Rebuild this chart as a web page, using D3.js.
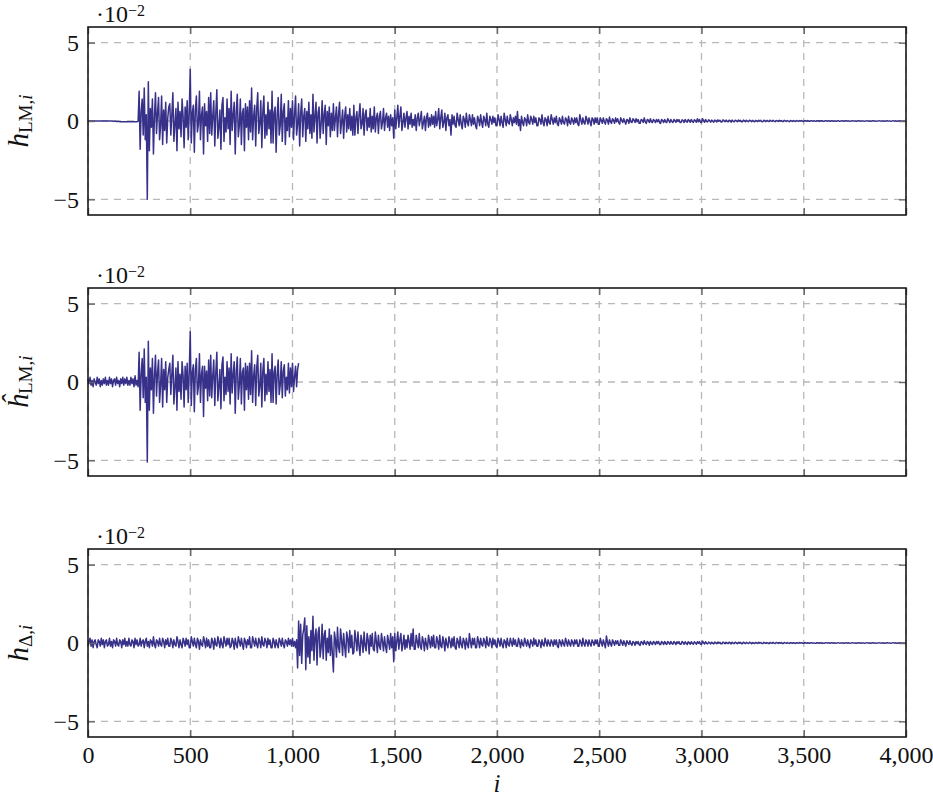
<!DOCTYPE html>
<html>
<head>
<meta charset="utf-8">
<script src="https://cdn.jsdelivr.net/npm/d3@7"></script>
<style>
  body { margin: 0; background: #fff; }
  text { font-family: "Liberation Serif", "DejaVu Serif", serif; fill: #111; }
  .tick line { stroke: #666; stroke-width: 1.4; }
  .tick text { font-size: 24px; }
</style>
</head>
<body>
<div id="chart"></div>
<script>
// Samples every STEP indices (values in units of 1e-2)
var STEP = 5

var xTicks = [0, 500, 1000, 1500, 2000, 2500, 3000, 3500, 4000]
var yTicks = [-5, 0, 5]

var hLM = [
  0,0,0,0,0,0,0,0,0,0,0,0,0,0,0,0,0,0,0,0,
  0,0,0,0,0,-0.01,-0.02,-0.02,-0.03,-0.03,-0.03,-0.04,-0.04,-0.04,-0.04,-0.05,-0.05,-0.05,-0.05,-0.05,
  -0.05,-0.05,-0.05,-0.05,-0.05,-0.05,-0.05,-0.04,-0.04,-0.03,1.9,-1.8,0.6,1.4,-0.9,2.1,-1.2,0.4,-5.0,2.5,
  -1.9,0.8,-0.4,1.4,-2.1,0.3,1.8,-0.8,0.5,1.5,-1.2,-0.3,1.6,-1.5,0.7,-0.6,1.2,-1.4,0.2,0.9,
  1.1,-0.9,0.4,1.8,-1.3,-0.2,0.8,-1.9,1.2,-0.5,0.6,-1.0,1.4,0.3,-1.7,0.9,-0.4,1.3,-1.2,0.5,
  3.3,-1.4,0.5,1.0,-2.0,0.7,1.6,-0.7,-0.2,1.9,-1.2,0.4,0.9,-2.1,1.1,-0.3,0.6,-1.3,1.5,-0.8,
  1.8,-0.9,0.3,1.3,-1.6,0.5,2.0,-1.1,-0.4,0.7,-1.8,1.0,1.5,-1.3,0.2,-0.7,1.4,-0.5,0.8,-1.5,
  1.9,-0.6,0.4,1.2,-2.1,0.6,1.7,-1.0,-0.3,1.4,-1.5,0.5,0.8,-1.9,1.1,-0.4,0.9,-1.2,1.3,-0.7,
  2.1,-1.2,0.3,1.0,-1.6,0.8,1.8,-0.8,-0.2,1.3,-1.7,0.6,1.6,-1.1,0.4,-0.9,1.2,-0.5,0.7,-1.4,
  1.9,-1.4,0.5,0.9,-2.0,0.4,1.5,-0.9,-0.3,1.7,-1.3,0.6,1.1,-1.5,0.2,-0.6,1.3,-1.0,0.8,-0.4,
  1.3,-1.2,0.4,1.6,-0.9,-0.2,1.1,-1.6,0.5,1.4,-1.0,0.3,0.8,-1.3,0.6,-0.5,1.2,-0.8,0.4,-1.1,
  1.7,-0.7,0.3,1.2,-1.4,0.5,0.9,-1.1,-0.2,1.3,-0.8,0.4,1.0,-1.5,0.6,-0.3,0.9,-1.0,0.5,-0.6,
  1.1,-0.6,0.2,0.9,-1.0,0.4,1.2,-0.8,-0.1,0.7,-1.1,0.3,0.9,-0.7,0.4,-0.5,0.8,-0.6,0.3,-0.9,
  1.0,-0.9,0.2,0.6,-0.8,0.3,1.1,-0.5,-0.2,0.8,-0.9,0.4,0.7,-0.6,0.2,-0.4,0.8,-0.7,0.3,-0.5,
  0.9,-0.7,0.2,0.5,-0.8,0.3,0.6,-0.5,-0.1,0.8,-0.6,0.2,0.5,-0.4,0.3,-0.6,0.4,-0.3,0.2,-1.1,
  0.7,-0.5,0.2,1.0,-0.4,0.3,0.9,-0.6,-0.1,0.5,-0.4,0.2,0.6,-0.5,0.3,-0.2,0.5,-0.4,0.1,-0.3,
  0.4,-0.6,0.2,0.5,-0.3,0.1,0.6,-0.5,-0.1,0.3,-0.6,0.2,0.5,-0.4,0.2,-0.3,0.4,-0.2,0.3,-0.4,
  0.6,-0.3,0.1,0.8,-0.5,0.2,0.7,-0.4,-0.1,0.5,-0.6,0.2,0.4,-0.3,0.1,-0.9,0.4,-0.2,0.3,-0.3,
  -0.4,0.5,0.1,-0.3,0.4,-0.2,-0.5,0.3,0.1,-0.4,0.5,-0.1,-0.3,0.4,0.1,-0.3,0.4,-0.2,0.2,-0.3,
  -0.5,0.3,0.1,-0.3,0.4,-0.1,-0.4,0.3,0.1,-0.3,0.5,-0.2,-0.4,0.3,0.1,-0.2,0.3,-0.1,0.2,-0.3,
  -0.3,0.4,0.1,-0.3,0.3,-0.1,-0.4,0.5,0.1,-0.3,0.3,-0.1,-0.2,0.4,0.1,-0.3,0.2,-0.1,0.3,-0.2,
  0.6,-0.3,0.1,-0.6,0.3,-0.1,-0.3,0.2,0.1,-0.3,0.4,-0.1,-0.2,0.3,0.1,-0.2,0.3,-0.1,0.2,-0.3,
  -0.3,0.2,0.1,-0.2,0.4,-0.1,-0.3,0.2,0.1,-0.3,0.3,-0.1,-0.2,0.4,0.1,-0.2,0.2,-0.1,0.3,-0.2,
  -0.3,0.2,0.05,-0.2,0.3,-0.1,-0.2,0.2,0.1,-0.3,0.3,-0.1,-0.2,0.2,0.05,-0.2,0.2,-0.1,0.2,-0.2,
  -0.3,0.4,0.05,-0.2,0.2,-0.1,-0.2,0.3,0.1,-0.2,0.2,-0.05,-0.3,0.2,0.1,-0.2,0.2,-0.1,0.2,-0.2,
  -0.2,0.2,0.05,-0.15,0.2,-0.05,-0.2,0.15,0.05,-0.2,0.25,-0.05,-0.15,0.15,0.05,-0.15,0.2,-0.05,0.15,-0.1,
  -0.2,0.2,0.05,-0.1,0.15,-0.05,-0.2,0.1,0.05,-0.15,0.2,-0.05,-0.1,0.15,0.05,-0.1,0.15,-0.05,0.1,-0.15,
  -0.15,0.1,0.05,-0.1,0.2,-0.05,-0.15,0.1,0.05,-0.1,0.15,-0.05,-0.1,0.1,0.03,-0.1,0.1,-0.05,0.1,-0.1,
  -0.15,0.1,0.03,-0.1,0.1,-0.05,-0.1,0.15,0.03,-0.1,0.1,-0.03,-0.1,0.1,0.03,-0.08,0.1,-0.03,0.08,-0.1,
  -0.1,0.08,0.03,-0.1,0.1,-0.03,-0.08,0.1,0.03,-0.08,0.1,-0.03,-0.1,0.08,0.03,-0.08,0.15,-0.05,0.1,-0.08,
  -0.1,0.15,0.03,-0.08,0.1,-0.03,-0.06,0.08,0.02,-0.07,0.06,-0.02,-0.08,0.06,0.02,-0.06,0.07,-0.02,0.05,-0.06,
  -0.06,0.07,0.02,-0.05,0.06,-0.02,-0.06,0.05,0.02,-0.07,0.06,-0.02,-0.05,0.05,0.02,-0.05,0.06,-0.02,0.05,-0.05,
  -0.05,0.06,0.02,-0.05,0.05,-0.02,-0.04,0.05,0.02,-0.05,0.04,-0.02,-0.05,0.04,0.01,-0.04,0.05,-0.02,0.04,-0.04,
  -0.04,0.05,0.01,-0.04,0.04,-0.01,-0.04,0.05,0.01,-0.03,0.04,-0.01,-0.04,0.03,0.01,-0.03,0.04,-0.01,0.03,-0.03,
  -0.03,0.04,0.01,-0.03,0.03,-0.01,-0.04,0.03,0.01,-0.03,0.03,-0.01,-0.03,0.03,0.01,-0.03,0.03,-0.01,0.03,-0.02,
  -0.03,0.02,0.01,-0.02,0.03,-0.01,-0.02,0.02,0.01,-0.02,0.02,-0.01,-0.02,0.02,0.01,-0.03,0.02,-0.01,0.02,-0.02,
  -0.02,0.02,0.01,-0.02,0.02,-0.01,-0.02,0.02,0.01,-0.02,0.01,-0.01,-0.02,0.02,0.01,-0.02,0.01,-0.01,0.02,-0.01,
  -0.01,0.02,0.01,-0.01,0.01,-0.01,-0.02,0.01,0.01,-0.01,0.01,-0.01,-0.01,0.01,0.01,-0.01,0.01,-0.01,0.01,-0.01,
  -0.01,0.01,0.01,-0.01,0.01,-0.01,-0.01,0.01,0.01,-0.01,0.01,-0.01,-0.01,0.01,0.01,-0.01,0.01,-0.01,0.01,-0.01,
  -0.01,0.01,0.01,-0.01,0.01,-0.01,-0.01,0.01,0.01,-0.01,0.01,-0.01,-0.01,0.01,0.01,-0.01,0.01,-0.01,0.01,-0.01,
  0
]

var hLMhat = [
  0.2,-0.1,0.3,-0.2,0.1,-0.3,0.2,0.0,-0.2,0.3,-0.1,0.2,-0.3,0.1,-0.2,0.2,-0.1,0.3,-0.2,0.1,
  -0.2,0.3,-0.1,0.2,-0.3,0.1,0.2,-0.2,0.3,-0.1,0.1,-0.3,0.2,-0.1,0.3,-0.2,0.2,-0.1,0.3,-0.2,
  0.1,-0.2,0.3,-0.1,0.2,-0.3,0.4,-0.2,0.1,-0.3,1.9,-1.8,0.5,1.5,-1.0,2.1,-1.3,0.3,-5.1,2.6,
  -1.8,0.9,-0.5,1.5,-2.0,0.4,1.7,-0.9,0.6,1.4,-1.3,-0.2,1.5,-1.6,0.8,-0.5,1.3,-1.3,0.3,0.8,
  1.2,-0.8,0.5,1.7,-1.4,-0.3,0.9,-1.8,1.3,-0.6,0.5,-1.1,1.3,0.4,-1.6,1.0,-0.5,1.2,-1.3,0.6,
  3.2,-1.5,0.6,1.1,-1.9,0.8,1.5,-0.8,-0.3,1.8,-1.3,0.5,1.0,-2.2,1.0,-0.4,0.7,-1.2,1.4,-0.9,
  1.7,-1.0,0.4,1.4,-1.5,0.6,1.9,-1.2,-0.3,0.8,-1.7,1.1,1.6,-1.2,0.3,-0.8,1.3,-0.6,0.9,-1.4,
  1.8,-0.7,0.5,1.3,-2.0,0.7,1.6,-1.1,-0.2,1.5,-1.4,0.6,0.9,-1.8,1.2,-0.5,1.0,-1.1,1.2,-0.8,
  2.0,-1.3,0.4,1.1,-1.5,0.9,1.7,-0.9,-0.3,1.2,-1.6,0.7,1.5,-1.2,0.5,-0.8,1.3,-0.6,0.8,-1.3,
  1.8,-1.3,0.6,1.0,-1.4,0.5,1.4,-0.8,-0.2,1.3,-1.0,0.7,1.1,-0.9,0.3,-0.5,1.2,-0.7,0.9,-0.3,
  1.2,-0.6,0.3,1.0,-0.3,0.8,1.2
]

var hDelta = [
  -0.2,0.1,0.3,-0.2,0.2,-0.3,0.1,0.2,-0.1,-0.3,0.2,0.1,-0.2,0.3,-0.1,0.2,-0.3,0.1,0.2,-0.2,
  -0.1,0.3,-0.2,0.1,-0.3,0.2,0.1,-0.2,0.3,-0.1,-0.2,0.2,0.1,-0.3,0.2,-0.1,0.3,-0.2,0.1,-0.2,
  0.3,-0.1,-0.2,0.2,0.1,-0.3,0.3,-0.1,0.2,-0.2,-0.1,0.3,-0.2,0.1,0.2,-0.3,0.1,0.3,-0.2,0.1,
  -0.3,0.2,0.1,-0.2,0.4,-0.1,-0.3,0.2,0.1,-0.2,0.3,-0.1,-0.2,0.3,0.1,-0.3,0.2,-0.1,0.3,-0.2,
  -0.2,0.3,0.1,-0.3,0.2,-0.1,-0.2,0.4,0.1,-0.3,0.2,-0.1,-0.3,0.3,0.1,-0.2,0.3,-0.1,0.2,-0.3,
  -0.3,0.4,0.1,-0.2,0.3,-0.1,-0.3,0.3,0.1,-0.4,0.2,-0.1,-0.2,0.4,0.1,-0.3,0.3,-0.2,0.2,-0.3,
  -0.3,0.3,0.1,-0.4,0.3,-0.1,-0.2,0.4,0.1,-0.3,0.3,-0.1,-0.3,0.4,0.1,-0.2,0.3,-0.1,0.3,-0.3,
  -0.2,0.3,0.1,-0.4,0.3,-0.1,-0.3,0.4,0.1,-0.2,0.3,-0.1,-0.4,0.3,0.1,-0.3,0.2,-0.1,0.4,-0.3,
  -0.3,0.4,0.1,-0.2,0.3,-0.1,-0.3,0.3,0.1,-0.3,0.4,-0.1,-0.2,0.3,0.1,-0.3,0.3,-0.1,0.2,-0.3,
  -0.3,0.3,0.1,-0.3,0.2,-0.1,-0.3,0.3,0.1,-0.2,0.3,-0.1,-0.3,0.2,0.1,-0.2,0.3,-0.1,0.2,-0.2,
  0.3,-0.2,0.1,-0.3,0.2,-1.6,1.4,-0.8,1.2,-1.3,0.5,0.9,1.6,-1.7,1.1,-0.9,0.4,-1.3,0.8,-0.5,
  1.7,-1.1,0.4,0.9,-1.4,0.6,1.0,-0.9,-0.3,1.2,-1.0,0.5,0.8,-1.1,0.3,-0.6,0.9,-0.8,0.5,-0.7,
  -1.85,0.7,0.2,-0.9,1.0,-0.3,-0.6,0.9,0.2,-0.8,0.6,-0.2,-0.9,0.7,0.3,-0.6,0.8,-0.3,0.5,-0.7,
  -0.6,0.8,0.2,-0.5,0.7,-0.2,-0.8,0.5,0.1,-0.6,0.7,-0.2,-0.5,0.6,0.2,-0.7,0.5,-0.2,0.6,-0.4,
  -0.5,0.7,0.1,-0.6,0.5,-0.2,-0.4,0.6,0.1,-0.5,0.4,-0.2,-0.6,0.5,0.1,-0.4,0.6,-0.3,0.4,-1.2,
  0.6,-0.5,0.1,0.7,-0.4,0.2,0.6,-0.5,-0.1,0.5,-0.4,0.2,-0.3,0.5,0.1,-0.4,0.6,-0.2,0.9,-0.4,
  -0.4,0.5,0.1,-0.3,0.6,-0.2,-0.4,0.4,0.1,-0.5,0.3,-0.1,-0.4,0.5,0.1,-0.3,0.4,-0.2,0.5,-0.3,
  -0.3,0.4,0.1,-0.4,0.5,-0.2,-0.3,0.4,0.1,-0.5,0.3,-0.1,-0.3,0.4,0.1,-0.3,0.3,-0.2,0.4,-0.3,
  -0.4,0.3,0.1,-0.3,0.4,-0.1,-0.3,0.3,0.1,-0.4,0.3,-0.1,-0.3,0.6,0.1,-0.3,0.3,-0.1,0.3,-0.3,
  -0.3,0.4,0.1,-0.3,0.3,-0.1,-0.2,0.3,0.1,-0.3,0.4,-0.1,-0.2,0.3,0.1,-0.3,0.3,-0.1,0.2,-0.2,
  -0.3,0.3,0.1,-0.2,0.3,-0.1,-0.3,0.2,0.1,-0.3,0.3,-0.1,-0.2,0.3,0.05,-0.2,0.3,-0.1,0.2,-0.2,
  -0.2,0.3,0.05,-0.3,0.2,-0.1,-0.2,0.3,0.05,-0.2,0.2,-0.1,-0.3,0.2,0.05,-0.2,0.3,-0.1,0.2,-0.2,
  -0.2,0.2,0.05,-0.3,0.2,-0.1,-0.2,0.3,0.05,-0.2,0.2,-0.05,-0.2,0.2,0.05,-0.2,0.2,-0.1,0.2,-0.2,
  -0.3,0.2,0.05,-0.2,0.2,-0.05,-0.2,0.3,0.05,-0.2,0.2,-0.05,-0.2,0.2,0.05,-0.2,0.2,-0.05,0.2,-0.2,
  -0.2,0.2,0.05,-0.2,0.3,-0.05,-0.2,0.2,0.05,-0.2,0.2,-0.05,-0.2,0.2,0.05,-0.15,0.2,-0.05,0.2,-0.2,
  -0.2,0.3,0.05,-0.2,0.2,-0.05,-0.3,0.45,0.05,-0.2,0.2,-0.05,-0.2,0.2,0.05,-0.15,0.15,-0.05,0.15,-0.15,
  -0.15,0.2,0.05,-0.15,0.15,-0.05,-0.2,0.15,0.03,-0.1,0.15,-0.05,-0.15,0.1,0.03,-0.15,0.1,-0.05,0.1,-0.1,
  -0.15,0.1,0.03,-0.1,0.15,-0.03,-0.1,0.1,0.03,-0.15,0.1,-0.03,-0.1,0.1,0.03,-0.1,0.1,-0.03,0.1,-0.1,
  -0.1,0.1,0.03,-0.1,0.1,-0.03,-0.1,0.1,0.03,-0.08,0.1,-0.03,-0.08,0.1,0.03,-0.1,0.08,-0.03,0.08,-0.08,
  -0.08,0.1,0.03,-0.08,0.08,-0.03,-0.1,0.08,0.03,-0.08,0.08,-0.03,-0.08,0.08,0.02,-0.08,0.08,-0.02,0.08,-0.08,
  -0.08,0.12,0.02,-0.06,0.08,-0.02,-0.06,0.06,0.02,-0.06,0.05,-0.02,-0.06,0.06,0.02,-0.05,0.06,-0.02,0.05,-0.05,
  -0.05,0.06,0.02,-0.05,0.05,-0.02,-0.04,0.05,0.02,-0.06,0.05,-0.02,-0.04,0.05,0.01,-0.05,0.04,-0.02,0.05,-0.04,
  -0.04,0.05,0.01,-0.04,0.04,-0.01,-0.04,0.05,0.01,-0.04,0.03,-0.01,-0.04,0.04,0.01,-0.03,0.04,-0.01,0.03,-0.03,
  -0.03,0.04,0.01,-0.03,0.03,-0.01,-0.04,0.03,0.01,-0.03,0.04,-0.01,-0.03,0.03,0.01,-0.03,0.03,-0.01,0.03,-0.03,
  -0.03,0.03,0.01,-0.02,0.03,-0.01,-0.03,0.02,0.01,-0.02,0.02,-0.01,-0.03,0.02,0.01,-0.02,0.03,-0.01,0.02,-0.02,
  -0.02,0.03,0.01,-0.02,0.02,-0.01,-0.02,0.02,0.01,-0.02,0.01,-0.01,-0.02,0.02,0.01,-0.02,0.02,-0.01,0.01,-0.02,
  -0.02,0.01,0.01,-0.01,0.02,-0.01,-0.01,0.01,0.01,-0.02,0.01,-0.01,-0.01,0.01,0.01,-0.01,0.01,-0.01,0.01,-0.01,
  -0.01,0.01,0.01,-0.01,0.01,-0.01,-0.01,0.01,0.01,-0.01,0.01,-0.01,-0.01,0.01,0.01,-0.01,0.01,-0.01,0.01,-0.01,
  -0.01,0.01,0.01,-0.01,0.01,-0.01,-0.01,0.01,0.01,-0.01,0.01,-0.01,-0.01,0.01,0.01,-0.01,0.01,-0.01,0.01,-0.01,
  -0.01,0.01,0.01,-0.01,0.01,-0.01,-0.01,0.01,0.01,-0.01,0.01,-0.01,-0.01,0.01,0.01,-0.01,0.01,-0.01,0.01,-0.01,
  0
]

var panels = [
  { values: hLM, sym: "h", sub: "LM" },
  { values: hLMhat, sym: "\u0125", sub: "LM" },
  { values: hDelta, sym: "h", sub: "\u0394" }
]

var svgWidth = 933
var svgHeight = 800

var margin = { left: 88, right: 27, top: 27 }
var width = svgWidth - margin.left - margin.right
var panelHeight = 188
var panelGap = 261

var lineColor = "#38318a"

var svg = d3.select("#chart")
  .append("svg")
  .attr("width", svgWidth)
  .attr("height", svgHeight)

var xScale = d3.scaleLinear()
  .domain([0, 4000])
  .range([0, width])

var yScale = d3.scaleLinear()
  .domain([-6, 6])
  .range([panelHeight, 0])

var line = d3.line()
  .x((d, i) => xScale(i * STEP))
  .y(d => yScale(d))

panels.forEach(function(p, k) {
  var g = svg.append("g")
    .attr("transform", `translate(${margin.left}, ${margin.top + k * panelGap})`)

  // dashed grid
  g.append("g").selectAll("line")
    .data(xTicks)
    .enter()
    .append("line")
    .attr("x1", d => xScale(d))
    .attr("x2", d => xScale(d))
    .attr("y1", 0)
    .attr("y2", panelHeight)
    .attr("stroke", "#b8b8b8")
    .attr("stroke-width", 1.3)
    .attr("stroke-dasharray", "7,6")

  g.append("g").selectAll("line")
    .data(yTicks)
    .enter()
    .append("line")
    .attr("x1", 0)
    .attr("x2", width)
    .attr("y1", d => yScale(d))
    .attr("y2", d => yScale(d))
    .attr("stroke", "#b8b8b8")
    .attr("stroke-width", 1.3)
    .attr("stroke-dasharray", "7,6")

  // the series
  g.append("path")
    .datum(p.values)
    .attr("fill", "none")
    .attr("stroke", lineColor)
    .attr("stroke-width", 1.5)
    .attr("stroke-linejoin", "round")
    .attr("d", line)

  // inward ticks on all four sides
  var bottomAxis = d3.axisBottom(xScale).tickValues(xTicks).tickSize(-7).tickPadding(9)
  if (k < panels.length - 1) bottomAxis.tickFormat("")
  else bottomAxis.tickFormat(d3.format(","))

  g.append("g")
    .attr("transform", `translate(0, ${panelHeight})`)
    .call(bottomAxis)
    .call(a => a.select(".domain").remove())

  g.append("g")
    .call(d3.axisTop(xScale).tickValues(xTicks).tickSize(-7).tickFormat(""))
    .call(a => a.select(".domain").remove())

  g.append("g")
    .call(d3.axisLeft(yScale).tickValues(yTicks).tickSize(-7).tickPadding(9))
    .call(a => a.select(".domain").remove())

  g.append("g")
    .attr("transform", `translate(${width}, 0)`)
    .call(d3.axisRight(yScale).tickValues(yTicks).tickSize(-7).tickFormat(""))
    .call(a => a.select(".domain").remove())

  g.selectAll(".tick text").attr("font-family", null).attr("font-size", null)

  // frame
  g.append("rect")
    .attr("width", width)
    .attr("height", panelHeight)
    .attr("fill", "none")
    .attr("stroke", "#1a1a1a")
    .attr("stroke-width", 1.6)

  // scale factor label
  var sc = g.append("text")
    .attr("x", 8)
    .attr("y", -5)
  sc.append("tspan").attr("font-size", "24px").text("\u00b710")
  sc.append("tspan").attr("font-size", "16px").attr("dy", -6).text("\u22122")

  // rotated y label
  var cy = panelHeight / 2
  var lab = g.append("text")
    .attr("transform", `translate(${-60}, ${cy}) rotate(-90)`)
    .attr("text-anchor", "middle")
  lab.append("tspan").attr("font-size", "29px").attr("font-style", "italic").text(p.sym)
  lab.append("tspan").attr("font-size", "19px").attr("dy", 4).text(p.sub + ",")
  lab.append("tspan").attr("font-size", "19px").attr("font-style", "italic").text("i")
})

// x label
svg.append("text")
  .attr("x", margin.left + width / 2)
  .attr("y", 792)
  .attr("text-anchor", "middle")
  .attr("font-size", "25px")
  .attr("font-style", "italic")
  .text("i")
</script>
</body>
</html>
